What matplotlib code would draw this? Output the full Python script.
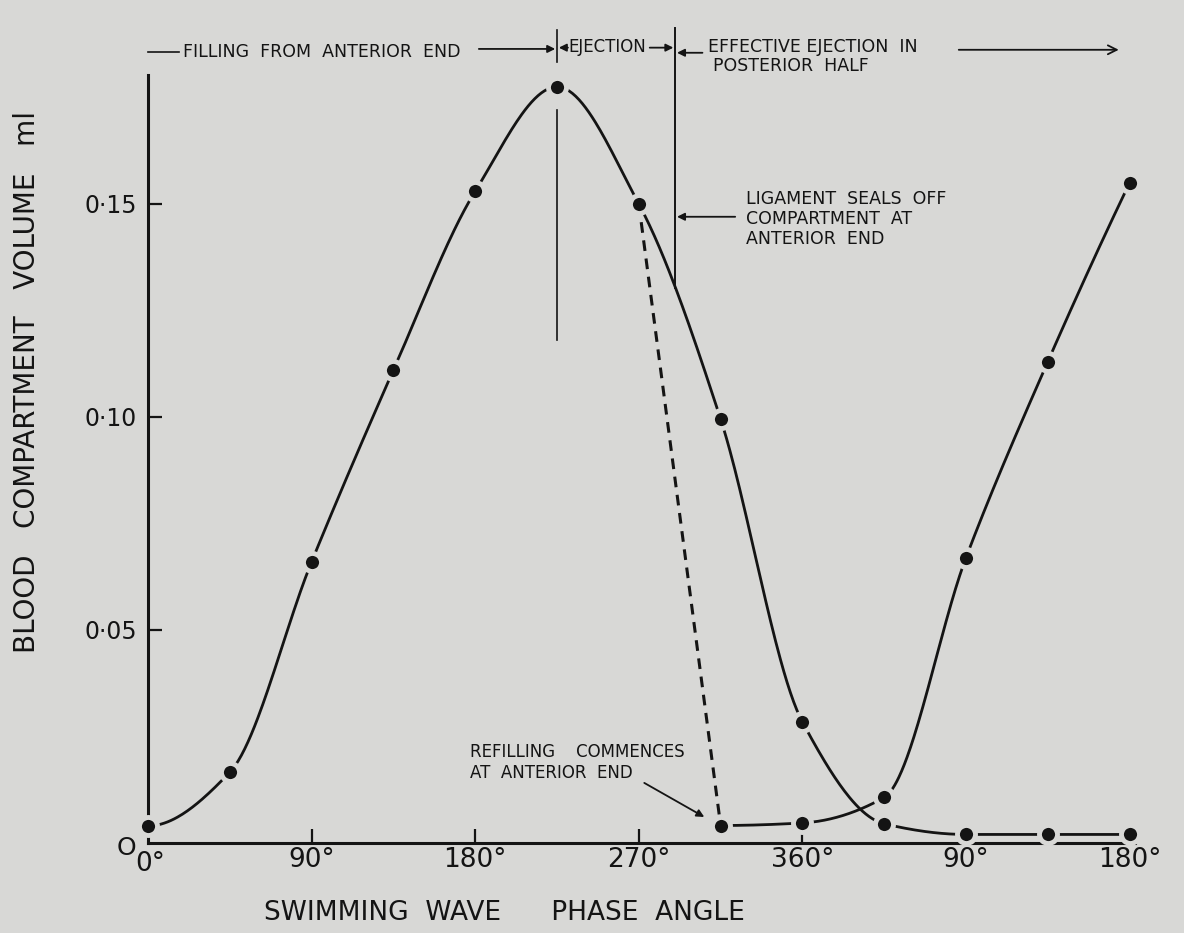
import numpy as np
import matplotlib
matplotlib.use('Agg')
import matplotlib.pyplot as plt

# phase angle (degrees, continuing past 360) and compartment volume (ml)
phase = [0, 45, 90, 135, 180, 225, 270, 315, 360, 405, 450, 495, 540]
volume = [0.004, 0.0166, 0.066, 0.111, 0.153, 0.1775, 0.150, 0.0995,
          0.0284, 0.0045, 0.002, 0.002, 0.002]

# second cycle: refilling at the anterior end
refill_phase = [315, 360, 405, 450, 495, 540]
refill_volume = [0.0041, 0.0047, 0.0107, 0.067, 0.113, 0.155]

xtick_pos = [90, 180, 270, 360, 450, 540]
xtick_lab = ['90°', '180°', '270°', '360°', '90°', '180°']
ytick_pos = [0.05, 0.10, 0.15]
ytick_lab = ['0·05', '0·10', '0·15']

BG = '#d8d8d6'
INK = '#141414'


def pchip(xs, ys, n=600):
    '''Monotone cubic curve through the points (for drawing the curve only).'''
    x = np.asarray(xs, float)
    y = np.asarray(ys, float)
    m = len(x)
    h = np.diff(x)
    delta = np.diff(y) / h
    d = np.zeros(m)
    for k in range(1, m - 1):
        if delta[k - 1] * delta[k] > 0:
            w1 = 2 * h[k] + h[k - 1]
            w2 = h[k] + 2 * h[k - 1]
            d[k] = (w1 + w2) / (w1 / delta[k - 1] + w2 / delta[k])

    def end(h0, h1, d0, d1):
        v = ((2 * h0 + h1) * d0 - h0 * d1) / (h0 + h1)
        if np.sign(v) != np.sign(d0):
            return 0.0
        if np.sign(d0) != np.sign(d1) and abs(v) > 3 * abs(d0):
            return 3 * d0
        return v

    d[0] = end(h[0], h[1], delta[0], delta[1])
    d[-1] = end(h[-1], h[-2], delta[-1], delta[-2])
    xx = np.linspace(x[0], x[-1], n)
    k = np.clip(np.searchsorted(x, xx) - 1, 0, m - 2)
    t = (xx - x[k]) / h[k]
    h00 = 2 * t ** 3 - 3 * t ** 2 + 1
    h10 = t ** 3 - 2 * t ** 2 + t
    h01 = -2 * t ** 3 + 3 * t ** 2
    h11 = t ** 3 - t ** 2
    yy = h00 * y[k] + h10 * h[k] * d[k] + h01 * y[k + 1] + h11 * h[k] * d[k + 1]
    return xx, yy


plt.rcParams['font.family'] = ['DejaVu Sans']
fig = plt.figure(figsize=(11.84, 9.33), dpi=100, facecolor=BG)
ax = fig.add_axes([0.125, 0.0965, 0.8337, 0.8232])
ax.set_facecolor('none')
ax.set_xlim(0, 543)
ax.set_ylim(0, 0.1803)

for s in ['top', 'right']:
    ax.spines[s].set_visible(False)
for s in ['left', 'bottom']:
    ax.spines[s].set_linewidth(2.2)
    ax.spines[s].set_color(INK)

ax.set_xticks(xtick_pos, xtick_lab)
ax.set_yticks(ytick_pos, ytick_lab)
ax.tick_params(direction='in', length=10, width=1.6, colors=INK)
ax.tick_params(axis='x', pad=3, labelsize=19)
ax.tick_params(axis='y', pad=8, labelsize=17)
ax.text(-12, -0.0012, 'O', fontsize=18, color=INK, ha='center', va='center')
ax.text(1, -0.0050, '0°', fontsize=19, color=INK, ha='center', va='center')

ax.set_ylabel('BLOOD   COMPARTMENT   VOLUME   ml', fontsize=20, color=INK)
ax.yaxis.set_label_coords(-0.108, 0.60)
ax.text(196, -0.0165, 'SWIMMING  WAVE      PHASE  ANGLE', fontsize=19,
        color=INK, ha='center', va='center', clip_on=False)

# curves
sx, sy = pchip(phase, volume)
ax.plot(sx, sy, color=INK, lw=2.0, zorder=3, clip_on=False)
rx, ry = pchip(refill_phase, refill_volume)
ax.plot(rx, ry, color=INK, lw=2.0, zorder=3, clip_on=False)
ax.plot([phase[6], refill_phase[0]], [volume[6], refill_volume[0]],
        color=INK, lw=2.2, ls=(0, (3.5, 2.5)), zorder=2)
for xs, ys in [(phase, volume), (refill_phase, refill_volume)]:
    ax.plot(xs, ys, 'o', ms=13, color=INK, mec=BG, mew=3.5, zorder=4,
            clip_on=False)

# guide lines
ax.plot([225, 225], [0.118, 0.172], color=INK, lw=1.2)
ax.plot([225, 225], [0.1833, 0.1908], color=INK, lw=1.2, clip_on=False)
ax.plot([290, 290], [0.1303, 0.1914], color=INK, lw=1.4, clip_on=False)

# top annotation row
top_fs = 12.5
arr = dict(arrowstyle='-|>', color=INK, lw=1.3, mutation_scale=11,
           shrinkA=0, shrinkB=0)
ax.plot([0, 17], [0.1857, 0.1857], color=INK, lw=1.2, clip_on=False)
ax.text(19, 0.1857, 'FILLING  FROM  ANTERIOR  END', fontsize=top_fs,
        color=INK, ha='left', va='center')
ax.annotate('', xy=(224, 0.1864), xytext=(182, 0.1864), arrowprops=arr,
            annotation_clip=False)
ax.annotate('', xy=(226, 0.1867), xytext=(231, 0.1867), arrowprops=arr,
            annotation_clip=False)
ax.text(231, 0.1869, 'EJECTION', fontsize=12, color=INK, ha='left',
        va='center')
ax.annotate('', xy=(289, 0.1867), xytext=(276, 0.1867), arrowprops=arr,
            annotation_clip=False)
ax.annotate('', xy=(291, 0.1855), xytext=(305, 0.1855), arrowprops=arr,
            annotation_clip=False)
ax.text(308, 0.1868, 'EFFECTIVE EJECTION  IN', fontsize=12.5, color=INK,
        ha='left', va='center')
ax.text(311, 0.1824, 'POSTERIOR  HALF', fontsize=12.5, color=INK,
        ha='left', va='center')
ax.annotate('', xy=(534, 0.1862), xytext=(446, 0.1862),
            arrowprops=dict(arrowstyle='->', color=INK, lw=1.3,
                            mutation_scale=16, shrinkA=0, shrinkB=0),
            annotation_clip=False)

# side notes
ax.text(329, 0.1464, 'LIGAMENT  SEALS  OFF\nCOMPARTMENT  AT\nANTERIOR  END',
        fontsize=top_fs, color=INK, ha='left', va='center', linespacing=1.15)
ax.annotate('', xy=(291, 0.147), xytext=(323, 0.147), arrowprops=arr)
ax.text(177, 0.0189, 'REFILLING    COMMENCES\nAT  ANTERIOR  END',
        fontsize=12, color=INK, ha='left', va='center', linespacing=1.2)
ax.annotate('', xy=(306, 0.0061), xytext=(273, 0.0141), arrowprops=arr)

fig.savefig('out.png', dpi=100, facecolor=BG)
